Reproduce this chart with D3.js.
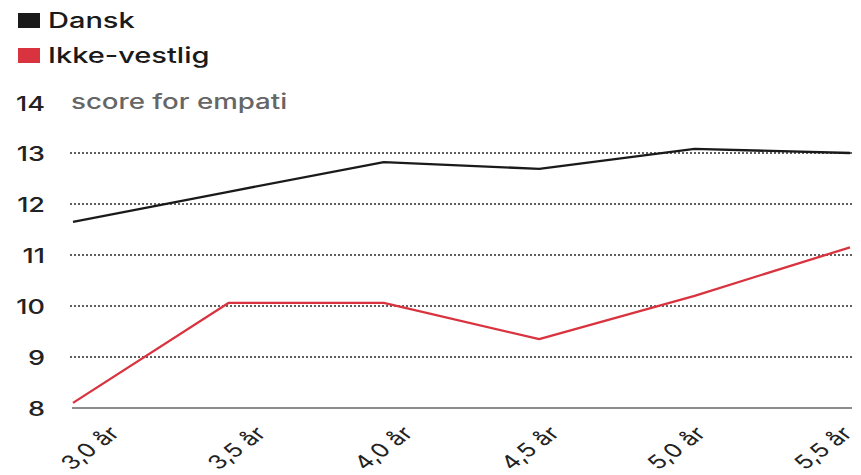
<!DOCTYPE html>
<html><head><meta charset="utf-8">
<script src="https://cdn.jsdelivr.net/npm/d3@7"></script>
<style>body{margin:0;background:#fff;font-family:Inter,"Liberation Sans",sans-serif;}</style>
</head><body><svg id="c" width="861" height="475"></svg>
<script>
const categories = ["3,0 år","3,5 år","4,0 år","4,5 år","5,0 år","5,5 år"];
const dansk = [11.65, 12.24, 12.82, 12.69, 13.08, 13.0];
const ikkeVestlig = [8.1, 10.06, 10.06, 9.35, 10.2, 11.15];
const yTicks = [8,9,10,11,12,13,14];
const seriesNames = ["Dansk","Ikke-vestlig"];
const seriesColors = ["#1a1a1a","#d9333f"];

const SX = 1.35; // horizontal stretch of the original artwork
const svg = d3.select("#c");
const x = d3.scalePoint().domain(categories).range([73, 850]);
const xLab = d3.scalePoint().domain(categories).range([90, 823]);
const y = d3.scaleLinear().domain([8, 14]).range([408, 102]);

// gridlines
svg.append("g").selectAll("line").data(yTicks.filter(t => t > 8 && t < 14)).join("line")
  .attr("x1", 70).attr("x2", 852)
  .attr("y1", d => y(d)).attr("y2", d => y(d))
  .attr("stroke", "#2a2a2a").attr("stroke-width", 1.4).attr("stroke-dasharray", "2,2");
// baseline
svg.append("line").attr("x1", 72).attr("x2", 852).attr("y1", y(8)).attr("y2", y(8))
  .attr("stroke", "#666").attr("stroke-width", 1.3);

// y labels
svg.append("g").selectAll("text").data(yTicks).join("text")
  .attr("transform", d => `translate(45,${y(d) + (d === 14 ? 2 : 1)}) scale(${SX},1)`)
  .attr("dy", "0.36em")
  .attr("text-anchor", "end").attr("font-size", 20).attr("font-weight", 500).attr("fill", "#222")
  .text(d => d);
svg.append("text").attr("transform", `translate(71,${y(14) + 1}) scale(${SX},1)`).attr("dy", "0.3em")
  .attr("font-size", 20.5).attr("font-weight", 500).attr("fill", "#666").text("score for empati");

// x labels
svg.append("g").selectAll("text").data(categories).join("text")
  .attr("transform", d => `translate(${xLab(d)},448) scale(${SX},1) rotate(-45)`)
  .attr("text-anchor", "middle").attr("dy", "0.35em")
  .attr("font-size", 19).attr("fill", "#222").text(d => d);

// lines
const line = d3.line().x((d, i) => x(categories[i])).y(d => y(d));
[dansk, ikkeVestlig].forEach((s, k) => {
  svg.append("path").datum(s).attr("d", line).attr("fill", "none")
    .attr("stroke", seriesColors[k]).attr("stroke-width", 2.3)
    .attr("stroke-linejoin", "round");
});

// legend
const lg = svg.append("g").selectAll("g").data(seriesNames).join("g")
  .attr("transform", (d, i) => `translate(18,${13 + i * 35})`);
lg.append("rect").attr("width", 22).attr("height", 15).attr("fill", (d, i) => seriesColors[i]);
lg.append("text").attr("transform", `translate(30,15) scale(${SX},1)`)
  .attr("font-size", 21.5).attr("font-weight", 500).attr("fill", "#1a1a1a").text(d => d);
</script></body></html>
